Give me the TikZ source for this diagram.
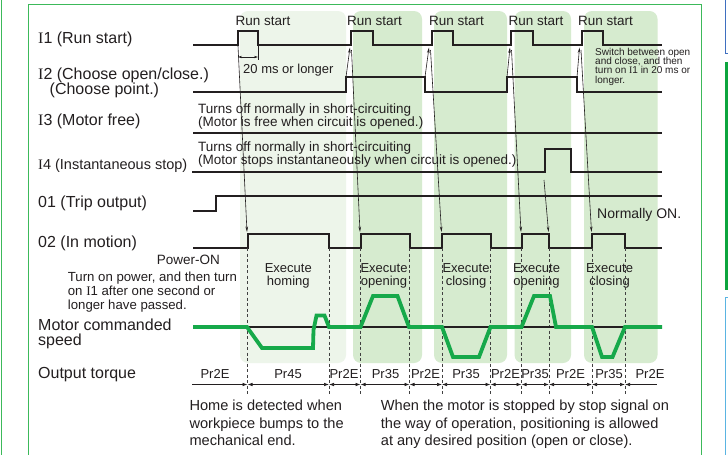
\documentclass[tikz,border=0pt]{standalone}
\usepackage{fontspec}
\setmainfont{Liberation Sans}
\newfontfamily\serifI{Liberation Serif}
\usetikzlibrary{arrows.meta}
\definecolor{frameG}{HTML}{3CB95A}
\definecolor{regL}{HTML}{EDF5EA}
\definecolor{regD}{HTML}{D6EBCF}
\definecolor{trace}{HTML}{16A94A}
\definecolor{pageblue}{HTML}{3F6FC0}
\definecolor{pagegreen}{HTML}{0DA53E}
\definecolor{pagelblue}{HTML}{5AB4E2}
\definecolor{ink}{HTML}{231F20}
\tikzset{
  lab/.style={font=\fontsize{16}{16}\selectfont, anchor=base west, inner sep=0pt, text=ink},
  mid/.style={font=\fontsize{13.5}{13.5}\selectfont, anchor=base west, inner sep=0pt, text=ink},
  midc/.style={font=\fontsize{13}{13}\selectfont, anchor=base, inner sep=0pt, text=ink},
  note/.style={font=\fontsize{13.2}{13.2}\selectfont, anchor=base west, inner sep=0pt, text=ink},
  small/.style={font=\fontsize{10}{10}\selectfont, anchor=base west, inner sep=0pt, text=ink, text height=7.2pt, text depth=2pt},
  big/.style={font=\fontsize{14.6}{14.6}\selectfont, anchor=base west, inner sep=0pt, text=ink},
  sig/.style={line width=2pt, ink, line join=miter},
  thinarr/.style={line width=0.6pt, ink, -{Stealth[length=5.5pt,width=2.6pt]}},
  dashln/.style={line width=0.7pt, black!75, dash pattern=on 3pt off 2.5pt},
  torq/.style={line width=0.7pt, ink},
  tq/.style={{Latex[length=5pt,width=3.6pt]}-{Latex[length=5pt,width=3.6pt]}},
  regionL/.style={fill=regL, rounded corners=8pt},
  regionD/.style={fill=regD, rounded corners=8pt},
}
\begin{document}
\begin{tikzpicture}[x=1pt,y=-1pt]
\useasboundingbox (0,0) rectangle (728,455);
\clip (0,0) rectangle (728,455);
\fill[white] (0,0) rectangle (728,455);
% page surroundings
\draw[frameG, line width=1pt] (1.5,-2) -- (1.5,460);
\draw[pageblue, line width=1pt] (725.5,-2) -- (725.5,53) -- (731,53);
\fill[pagegreen] (725,61.5) rectangle (731,289.5);
\draw[pagelblue, line width=1pt] (731,297) -- (725.5,297) -- (725.5,460);
% frame
\draw[frameG, line width=1pt] (28.5,460) -- (28.5,4.7) -- (701.5,4.7) -- (701.5,460);
% shaded regions
\fill[regionL] (240,11) rectangle (346,363);
\fill[regionD] (353,11) rectangle (422,363);
\fill[regionD] (434,11) rectangle (507,363);
\fill[regionD] (514.5,11) rectangle (571,363);
\fill[regionD] (584,11) rectangle (657.5,363);
% left labels
\node[lab] (lI1) at (38,43) {{\serifI I}1 (Run start)};
\node[lab] (lI2a) at (38,79.2) {{\serifI I}2 (Choose open/close.)};
\node[lab] (lI2b) at (49.5,94.8) {(Choose point.)};
\node[lab] (lI3) at (38,125.5) {{\serifI I}3 (Motor free)};
\node[lab, font=\fontsize{14.5}{14.5}\selectfont] (lI4) at (38,169.5) {{\serifI I}4 (Instantaneous stop)};
\node[lab] (lO1) at (38,207.5) {01 (Trip output)};
\node[lab] (lO2) at (38,247) {02 (In motion)};
\node[lab] (lM1) at (38,330) {Motor commanded};
\node[lab] (lM2) at (38,345) {speed};
\node[lab] (lTq) at (38,378.5) {Output torque};
% run start labels
\node[mid] (rs1) at (235.5,25) {Run start};
\node[mid] (rs2) at (347,25) {Run start};
\node[mid] (rs3) at (429,25) {Run start};
\node[mid] (rs4) at (508.5,25) {Run start};
\node[mid] (rs5) at (578,25) {Run start};
\node[mid, font=\fontsize{13}{13}\selectfont] (ms20) at (243,73) {20 ms or longer};
% I3 / I4 notes
\node[mid] (n3a) at (198,113) {Turns off normally in short-circuiting};
\node[mid] (n3b) at (198,126.5) {(Motor is free when circuit is opened.)};
\node[mid] (n4a) at (198,151.3) {Turns off normally in short-circuiting};
\node[mid] (n4b) at (198,164.7) {(Motor stops instantaneously when circuit is opened.)};
\node[small] (sw1) at (595,55.5) {Switch between open};
\node[small] (sw2) at (595,64.7) {and close, and then};
\node[small] (sw3) at (595,73.9) {turn on {\serifI I}1 in 20 ms or};
\node[small] (sw4) at (595,83.1) {longer.};
\node[mid, font=\fontsize{14}{14}\selectfont] (non) at (597,218) {Normally ON.};
\node[mid] (pon) at (156.7,264) {Power-ON};
\node[note] (tp1) at (67.7,281.3) {Turn on power, and then turn};
\node[note] (tp2) at (67.7,295.5) {on {\serifI I}1 after one second or};
\node[note] (tp3) at (67.7,309.7) {longer have passed.};
% execute labels
\node[midc] (e1a) at (288.3,272) {Execute};
\node[midc] (e1b) at (288.3,285) {homing};
\node[midc] (e2a) at (384,272) {Execute};
\node[midc] (e2b) at (384,285) {opening};
\node[midc] (e3a) at (466,272) {Execute};
\node[midc] (e3b) at (466,285) {closing};
\node[midc] (e4a) at (536.5,272) {Execute};
\node[midc] (e4b) at (536.5,285) {opening};
\node[midc] (e5a) at (609.5,272) {Execute};
\node[midc] (e5b) at (609.5,285) {closing};
% torque labels
\node[midc] (t1) at (215,378.7) {Pr2E};
\node[midc] (t2) at (288,378.7) {Pr45};
\node[midc] (t3) at (344,378.7) {Pr2E};
\node[midc] (t4) at (385.5,378.7) {Pr35};
\node[midc] (t5) at (425.5,378.7) {Pr2E};
\node[midc] (t6) at (466,378.7) {Pr35};
\node[midc] (t7) at (505.5,378.7) {Pr2E};
\node[midc] (t8) at (535,378.7) {Pr35};
\node[midc] (t9) at (570.5,378.7) {Pr2E};
\node[midc] (t10) at (609,378.7) {Pr35};
\node[midc] (t11) at (650,378.7) {Pr2E};
% bottom notes
\node[big] (h1) at (189.3,410.5) {Home is detected when};
\node[big] (h2) at (189.3,428) {workpiece bumps to the};
\node[big] (h3) at (189.3,445.5) {mechanical end.};
\node[big] (w1) at (380.7,410.5) {When the motor is stopped by stop signal on};
\node[big] (w2) at (380.7,428) {the way of operation, positioning is allowed};
\node[big] (w3) at (380.7,445.5) {at any desired position (open or close).};
% signals
\draw[sig] (193,45) -- (237.5,45) -- (237.5,31) -- (258,31) -- (258,45) -- (351,45) -- (351,31) -- (372.5,31) -- (372.5,45) -- (431.5,45) -- (431.5,31) -- (453,31) -- (453,45) -- (511,45) -- (511,31) -- (533,31) -- (533,45) -- (582,45) -- (582,31) -- (603,31) -- (603,45) -- (662,45);
\draw[sig] (193,92) -- (346,92) -- (346,77) -- (425,77) -- (425,92) -- (507,92) -- (507,77) -- (577,77) -- (577,92) -- (662,92);
\draw[sig] (193,133) -- (662,133);
\draw[sig] (192,172) -- (545,172) -- (545,149) -- (570.5,149) -- (570.5,172) -- (662,172);
\draw[sig] (193,211) -- (216,211) -- (216,196) -- (662,196);
\draw[sig] (193,248) -- (247.5,248) -- (247.5,234) -- (329,234) -- (329,248) -- (360.5,248) -- (360.5,234) -- (409.5,234) -- (409.5,248) -- (442,248) -- (442,234) -- (490.5,234) -- (490.5,248) -- (521.5,248) -- (521.5,234) -- (549,234) -- (549,248) -- (592,248) -- (592,234) -- (625,234) -- (625,248) -- (662,248);
% 20 ms dimension
\coordinate (dimL) at (238,57);
\coordinate (dimR) at (258,57);
\coordinate (tickT) at (258,45);
\coordinate (tickB) at (258,60);
\draw[line width=0.6pt, ink] (tickT) -- (tickB);
\draw[line width=0.6pt, ink, {Stealth[length=4pt,width=2.4pt]}-{Stealth[length=4pt,width=2.4pt]}] (dimL) -- (dimR);
% cause arrows
\coordinate (a1s) at (238,46);   \coordinate (a1e) at (247,232);
\coordinate (u2s) at (346,77);   \coordinate (u2e) at (350,47.5);
\coordinate (d2s) at (351.5,50); \coordinate (d2e) at (360,232);
\coordinate (u3s) at (425,77);   \coordinate (u3e) at (429,47.5);
\coordinate (d3s) at (430.5,50); \coordinate (d3e) at (441.5,232);
\coordinate (u4s) at (507,77);   \coordinate (u4e) at (510,47.5);
\coordinate (d4s) at (511.5,50); \coordinate (d4e) at (521,232);
\coordinate (u5s) at (577,77);   \coordinate (u5e) at (579.5,47.5);
\coordinate (d5s) at (581,50);   \coordinate (d5e) at (591.5,232);
\coordinate (i4s) at (544,180);  \coordinate (i4e) at (548.5,232);
\draw[thinarr] (a1s) -- (a1e);
\draw[thinarr] (u2s) -- (u2e);
\draw[thinarr] (d2s) -- (d2e);
\draw[thinarr] (u3s) -- (u3e);
\draw[thinarr] (d3s) -- (d3e);
\draw[thinarr] (u4s) -- (u4e);
\draw[thinarr] (d4s) -- (d4e);
\draw[thinarr] (u5s) -- (u5e);
\draw[thinarr] (d5s) -- (d5e);
\draw[thinarr] (i4s) -- (i4e);
% dashed lines
\foreach \xx in {247.5,329,360.5,409.5,442,490.5,521.5,549,592,625}
  \draw[dashln] (\xx,248) -- (\xx,396);
% torque axis
\coordinate (b0) at (192,384.5);
\coordinate (b1) at (247.5,384.5);
\coordinate (b2) at (329,384.5);
\coordinate (b3) at (360.5,384.5);
\coordinate (b4) at (409.5,384.5);
\coordinate (b5) at (442,384.5);
\coordinate (b6) at (490.5,384.5);
\coordinate (b7) at (521.5,384.5);
\coordinate (b8) at (549,384.5);
\coordinate (b9) at (592,384.5);
\coordinate (b10) at (625,384.5);
\coordinate (b11) at (657,384.5);
\draw[torq, -{Latex[length=5pt,width=3.6pt]}] (b0) -- (b1);
\draw[torq, tq] (b1) -- (b2);
\draw[torq, tq] (b2) -- (b3);
\draw[torq, tq] (b3) -- (b4);
\draw[torq, tq] (b4) -- (b5);
\draw[torq, tq] (b5) -- (b6);
\draw[torq, tq] (b6) -- (b7);
\draw[torq, tq] (b7) -- (b8);
\draw[torq, tq] (b8) -- (b9);
\draw[torq, tq] (b9) -- (b10);
\draw[torq, {Latex[length=5pt,width=3.6pt]}-] (b10) -- (b11);
% speed
\draw[line width=1.5pt, ink] (193,327) -- (662,327);
\draw[trace, line width=3.8pt, line join=miter] (193,327) -- (247,327) -- (262,348) -- (313,348) -- (313.5,330) -- (316.5,315.5) -- (324.5,315.5) -- (329,327) -- (360.5,327) -- (373,296) -- (397.5,296) -- (409,327) -- (442,327) -- (453,357) -- (479,357) -- (490.5,327) -- (521.5,327) -- (534,296) -- (550,296) -- (556,327) -- (592,327) -- (602,357) -- (612.5,357) -- (625,327) -- (662,327);
\end{tikzpicture}
\end{document}
